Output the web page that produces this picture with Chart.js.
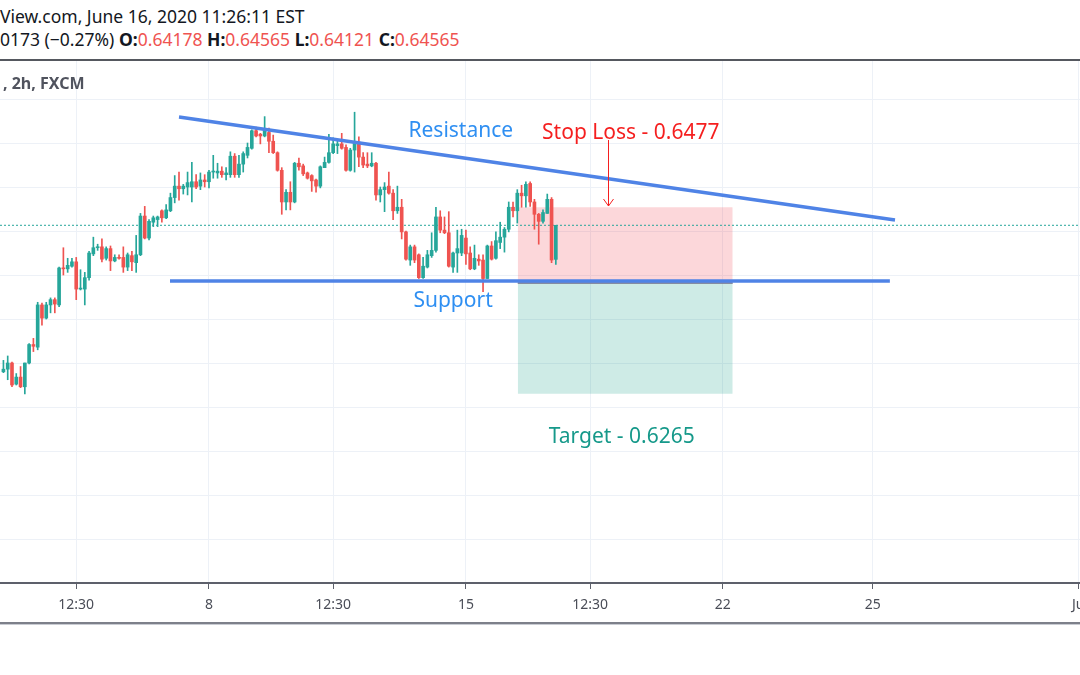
<!DOCTYPE html>
<html>
<head>
<meta charset="utf-8">
<script src="https://cdn.jsdelivr.net/npm/chart.js@4.4.1/dist/chart.umd.min.js"></script>
<style>
  html, body { margin: 0; padding: 0; background: #fff; }
  body { width: 1080px; height: 675px; position: relative; overflow: hidden; font-family: "Noto Sans", sans-serif; }
  .hdr { position: absolute; left: 0; white-space: nowrap; color: #131722; font-size: 17.5px; line-height: 22px; }
  .hdr b { font-weight: 700; }
  .hdr .v { color: #ef5350; }
  #line1 { top: 5px; }
  #line2 { top: 28px; }
  #topRule { position: absolute; left: 0; top: 59px; width: 1080px; height: 2px; background: #55585f; }
  #sym { position: absolute; left: 3px; top: 72px; font-size: 16px; font-weight: 700; color: #50535e; white-space: nowrap; }
  #chartBox { position: absolute; left: 0; top: 61px; width: 1080px; height: 562px; }
  #bottomRule { position: absolute; left: 0; top: 622px; width: 1080px; height: 2px; background: #7d808a; border-bottom: 1px solid #c9ccd3; }
</style>
</head>
<body>
<div class="hdr" id="line1">View.com, June 16, 2020 11:26:11 EST</div>
<div class="hdr" id="line2">0173 (−0.27%) <b>O:</b><span class="v">0.64178</span> <b>H:</b><span class="v">0.64565</span> <b>L:</b><span class="v">0.64121</span> <b>C:</b><span class="v">0.64565</span></div>
<div id="topRule"></div>
<div id="chartBox"><canvas id="chart"></canvas></div>
<div id="sym">, 2h, FXCM</div>
<div id="bottomRule"></div>
<script>
// 2h bars, x = bar number counted from June 8 00:00 (weekend gap removed)
const firstBar = -48;

const candleOpen = [
  0.6290, 0.6293, 0.6300, 0.6276, 0.6284, 0.6273, 0.6300, 0.6321, 0.6318, 0.6366,
  0.6351, 0.6366, 0.6372, 0.6366, 0.6408, 0.6407, 0.6410, 0.6415, 0.6384, 0.6384,
  0.6397, 0.6424, 0.6431, 0.6432, 0.6419, 0.6430, 0.6416, 0.6420, 0.6420, 0.6409,
  0.6422, 0.6414, 0.6423, 0.6467, 0.6442, 0.6460, 0.6463, 0.6473, 0.6465, 0.6473,
  0.6488, 0.6501, 0.6498, 0.6500, 0.6500, 0.6506, 0.6501, 0.6508, 0.6506, 0.6517,
  0.6516, 0.6518, 0.6514, 0.6514, 0.6535, 0.6514, 0.6526, 0.6536, 0.6544, 0.6564,
  0.6560, 0.6558, 0.6562, 0.6552, 0.6539, 0.6519, 0.6483, 0.6494, 0.6483, 0.6527,
  0.6524, 0.6516, 0.6513, 0.6508, 0.6501, 0.6522, 0.6528, 0.6539, 0.6547, 0.6549,
  0.6545, 0.6519, 0.6542, 0.6551, 0.6534, 0.6526, 0.6524, 0.6527, 0.6491, 0.6497,
  0.6501, 0.6493, 0.6473, 0.6477, 0.6449, 0.6417, 0.6432, 0.6423, 0.6397, 0.6409,
  0.6422, 0.6428, 0.6466, 0.6451, 0.6448, 0.6409, 0.6425, 0.6425, 0.6442, 0.6425,
  0.6407, 0.6418, 0.6417, 0.6396, 0.6433, 0.6419, 0.6437, 0.6443, 0.6452, 0.6477,
  0.6473, 0.6493, 0.6490, 0.6504, 0.6483, 0.6469, 0.6461, 0.6470, 0.6486, 0.64178
];
const candleHigh = [
  0.6303, 0.6308, 0.6301, 0.6288, 0.6296, 0.6300, 0.6322, 0.6328, 0.6369, 0.6368,
  0.6369, 0.6374, 0.6374, 0.6409, 0.6431, 0.6419, 0.6419, 0.6420, 0.6406, 0.6403,
  0.6427, 0.6443, 0.6435, 0.6441, 0.6432, 0.6433, 0.6423, 0.6423, 0.6432, 0.6425,
  0.6427, 0.6445, 0.6470, 0.6478, 0.6463, 0.6467, 0.6467, 0.6474, 0.6480, 0.6493,
  0.6513, 0.6517, 0.6503, 0.6517, 0.6528, 0.6514, 0.6516, 0.6514, 0.6519, 0.6536,
  0.6527, 0.6523, 0.6522, 0.6540, 0.6538, 0.6536, 0.6540, 0.6550, 0.6565, 0.6568,
  0.6561, 0.6580, 0.6567, 0.6559, 0.6540, 0.6522, 0.6497, 0.6506, 0.6528, 0.6533,
  0.6526, 0.6517, 0.6514, 0.6509, 0.6524, 0.6534, 0.6560, 0.6556, 0.6552, 0.6561,
  0.6548, 0.6544, 0.6585, 0.6557, 0.6539, 0.6539, 0.6539, 0.6528, 0.6500, 0.6505,
  0.6517, 0.6497, 0.6501, 0.6486, 0.6450, 0.6434, 0.6434, 0.6424, 0.6420, 0.6428,
  0.6448, 0.6477, 0.6473, 0.6466, 0.6472, 0.6426, 0.6451, 0.6452, 0.6451, 0.6432,
  0.6434, 0.6423, 0.6423, 0.6434, 0.6438, 0.6449, 0.6460, 0.6454, 0.6483, 0.6483,
  0.6497, 0.6502, 0.6506, 0.6506, 0.6486, 0.6470, 0.6474, 0.6492, 0.6488, 0.64565
];
const candleLow = [
  0.6289, 0.6281, 0.6273, 0.6275, 0.6272, 0.6265, 0.6299, 0.6313, 0.6315, 0.6343,
  0.6350, 0.6357, 0.6357, 0.6364, 0.6400, 0.6403, 0.6409, 0.6372, 0.6383, 0.6366,
  0.6394, 0.6422, 0.6428, 0.6415, 0.6417, 0.6405, 0.6415, 0.6418, 0.6403, 0.6405,
  0.6405, 0.6403, 0.6422, 0.6441, 0.6440, 0.6455, 0.6455, 0.6460, 0.6464, 0.6472,
  0.6482, 0.6485, 0.6492, 0.6491, 0.6483, 0.6498, 0.6497, 0.6500, 0.6499, 0.6510,
  0.6510, 0.6511, 0.6508, 0.6511, 0.6511, 0.6511, 0.6517, 0.6533, 0.6543, 0.6557,
  0.6549, 0.6557, 0.6539, 0.6538, 0.6518, 0.6469, 0.6474, 0.6474, 0.6482, 0.6519,
  0.6513, 0.6509, 0.6495, 0.6494, 0.6499, 0.6522, 0.6527, 0.6538, 0.6538, 0.6543,
  0.6518, 0.6518, 0.6517, 0.6523, 0.6522, 0.6522, 0.6523, 0.6485, 0.6483, 0.6472,
  0.6492, 0.6463, 0.6470, 0.6441, 0.6417, 0.6411, 0.6414, 0.6396, 0.6396, 0.6408,
  0.6420, 0.6426, 0.6448, 0.6447, 0.6409, 0.6403, 0.6403, 0.6422, 0.6412, 0.6406,
  0.6406, 0.6411, 0.6381, 0.6396, 0.6417, 0.6418, 0.6430, 0.6426, 0.6449, 0.6466,
  0.6459, 0.6477, 0.6477, 0.6478, 0.6452, 0.6435, 0.6459, 0.6470, 0.6414, 0.64121
];
const candleClose = [
  0.6293, 0.6300, 0.6275, 0.6284, 0.6273, 0.6300, 0.6321, 0.6319, 0.6366, 0.6351,
  0.6366, 0.6372, 0.6367, 0.6408, 0.6407, 0.6411, 0.6415, 0.6384, 0.6385, 0.6397,
  0.6425, 0.6431, 0.6432, 0.6418, 0.6430, 0.6416, 0.6420, 0.6419, 0.6409, 0.6423,
  0.6415, 0.6423, 0.6467, 0.6442, 0.6461, 0.6465, 0.6466, 0.6465, 0.6474, 0.6488,
  0.6501, 0.6498, 0.6501, 0.6505, 0.6506, 0.6500, 0.6508, 0.6506, 0.6517, 0.6518,
  0.6518, 0.6514, 0.6516, 0.6535, 0.6514, 0.6526, 0.6538, 0.6545, 0.6564, 0.6558,
  0.6558, 0.6564, 0.6552, 0.6539, 0.6519, 0.6483, 0.6494, 0.6483, 0.6527, 0.6523,
  0.6515, 0.6510, 0.6507, 0.6501, 0.6523, 0.6528, 0.6539, 0.6549, 0.6549, 0.6544,
  0.6519, 0.6542, 0.6551, 0.6534, 0.6525, 0.6524, 0.6527, 0.6491, 0.6497, 0.6500,
  0.6493, 0.6473, 0.6477, 0.6449, 0.6418, 0.6432, 0.6417, 0.6397, 0.6410, 0.6423,
  0.6428, 0.6466, 0.6451, 0.6448, 0.6410, 0.6425, 0.6430, 0.6445, 0.6424, 0.6407,
  0.6419, 0.6416, 0.6396, 0.6433, 0.6418, 0.6439, 0.6443, 0.6452, 0.6477, 0.6473,
  0.6493, 0.6490, 0.6503, 0.6483, 0.6469, 0.6461, 0.6471, 0.6486, 0.6417, 0.64565
];

const tickValues = [-31, 0, 29, 60, 89, 120, 155, 203];
const tickLabels = ['12:30', '8', '12:30', '15', '12:30', '22', '25', 'Ju'];
const priceGrid = [0.605, 0.61, 0.615, 0.62, 0.625, 0.63, 0.635, 0.64, 0.645, 0.65, 0.655, 0.66];

// drawings, in bar / price units
const resistanceX = [-7, 160.2];
const resistanceY = [0.65795, 0.64625];
const supportX = [-9.1, 159];
const supportY = 0.63932;
const positionX = [72.1, 122.3];
const stopPrice = 0.6477;
const entryPrice = 0.6391;
const targetPrice = 0.6265;
const lastPrice = 0.64565;

const noteText = ['Resistance', 'Support', 'Stop Loss - 0.6477', 'Target - 0.6265'];
const noteX = [58.8, 57.0, 98.5, 96.4];
const noteY = [0.65636, 0.63705, 0.65614, 0.62159];
const noteColor = ['#2f8ff2', '#2f8ff2', '#f51f1f', '#16998a'];
const arrowX = 93.2;
const arrowY = [0.65534, 0.64784];

const UP = '#26a69a';
const DOWN = '#ef5350';
const LINE_BLUE = '#4f83e6';

const candleColor = ctx => candleClose[ctx.dataIndex] >= candleOpen[ctx.dataIndex] ? UP : DOWN;

const wicks = candleOpen.map((o, i) => ({ x: firstBar + i, y: [candleLow[i], candleHigh[i]] }));
const bodies = candleOpen.map((o, i) => ({ x: firstBar + i, y: [o, candleClose[i]] }));

const notesPlugin = {
    id: 'notes',
    afterDatasetsDraw(chart) {
        const { ctx, scales: { x, y } } = chart;
        ctx.save();
        ctx.font = '21px "Noto Sans", sans-serif';
        ctx.textAlign = 'center';
        ctx.textBaseline = 'middle';
        noteText.forEach((t, i) => {
            ctx.fillStyle = noteColor[i];
            ctx.fillText(t, x.getPixelForValue(noteX[i]), y.getPixelForValue(noteY[i]));
        });
        // arrow from stop label down to the box
        const ax = Math.round(x.getPixelForValue(arrowX)) + 0.5;
        const y0 = y.getPixelForValue(arrowY[0]);
        const y1 = y.getPixelForValue(arrowY[1]);
        ctx.strokeStyle = '#f51f1f';
        ctx.lineWidth = 1;
        ctx.beginPath();
        ctx.moveTo(ax, y0);
        ctx.lineTo(ax, y1);
        ctx.moveTo(ax - 5, y1 - 7);
        ctx.lineTo(ax, y1);
        ctx.lineTo(ax + 5, y1 - 7);
        ctx.stroke();
        ctx.restore();
    }
};

new Chart(document.getElementById('chart'), {
    type: 'bar',
    data: {
        datasets: [
            {
                type: 'line', order: 10,
                data: [{ x: positionX[0], y: stopPrice }, { x: positionX[1], y: stopPrice }],
                borderWidth: 0, pointRadius: 0,
                backgroundColor: 'rgba(242,54,69,0.2)',
                fill: { value: entryPrice }
            },
            {
                type: 'line', order: 10,
                data: [{ x: positionX[0], y: targetPrice }, { x: positionX[1], y: targetPrice }],
                borderWidth: 0, pointRadius: 0,
                backgroundColor: 'rgba(8,153,129,0.2)',
                fill: { value: entryPrice }
            },
            {
                type: 'line', order: 9,
                data: [{ x: -48.8, y: lastPrice }, { x: 203.4, y: lastPrice }],
                borderColor: UP, borderWidth: 1, borderDash: [2, 2], pointRadius: 0
            },
            {
                order: 3,
                data: wicks,
                backgroundColor: candleColor,
                barThickness: 1,
                grouped: false
            },
            {
                order: 2,
                data: bodies,
                backgroundColor: candleColor,
                barThickness: 3,
                minBarLength: 1,
                grouped: false
            },
            {
                type: 'line', order: 1,
                data: [{ x: positionX[0], y: entryPrice }, { x: positionX[1], y: entryPrice }],
                borderColor: 'rgba(120,123,150,0.85)', borderWidth: 2, pointRadius: 0
            },
            {
                type: 'line', order: 0,
                data: [{ x: resistanceX[0], y: resistanceY[0] }, { x: resistanceX[1], y: resistanceY[1] }],
                borderColor: LINE_BLUE, borderWidth: 3.5, pointRadius: 0
            },
            {
                type: 'line', order: 0,
                data: [{ x: supportX[0], y: supportY }, { x: supportX[1], y: supportY }],
                borderColor: LINE_BLUE, borderWidth: 3.5, pointRadius: 0
            }
        ]
    },
    options: {
        responsive: true,
        maintainAspectRatio: false,
        animation: false,
        layout: { padding: 0, autoPadding: false },
        plugins: { legend: { display: false }, tooltip: { enabled: false } },
        scales: {
            x: {
                type: 'linear',
                min: -48.8,
                max: 203.4,
                offset: false,
                afterBuildTicks: s => { s.ticks = tickValues.map(v => ({ value: v })); },
                afterFit: s => { s.height = 40; s.paddingLeft = 0; s.paddingRight = 0; },
                grid: { offset: false, color: '#edf1f7', tickColor: '#5d606b', tickLength: 6 },
                border: { color: '#5d606b', width: 2 },
                ticks: {
                    autoSkip: false, maxRotation: 0, padding: 8,
                    color: '#4a4d57',
                    font: { family: '"Noto Sans", sans-serif', size: 14 },
                    callback: (v, i) => tickLabels[i]
                }
            },
            y: {
                min: 0.605,
                max: 0.66432,
                afterBuildTicks: s => { s.ticks = priceGrid.map(v => ({ value: v })); },
                afterFit: s => { s.width = 0; },
                grid: { color: '#edf1f7', drawTicks: false },
                border: { display: false },
                ticks: { display: false }
            }
        }
    },
    plugins: [notesPlugin]
});
</script>
</body>
</html>
